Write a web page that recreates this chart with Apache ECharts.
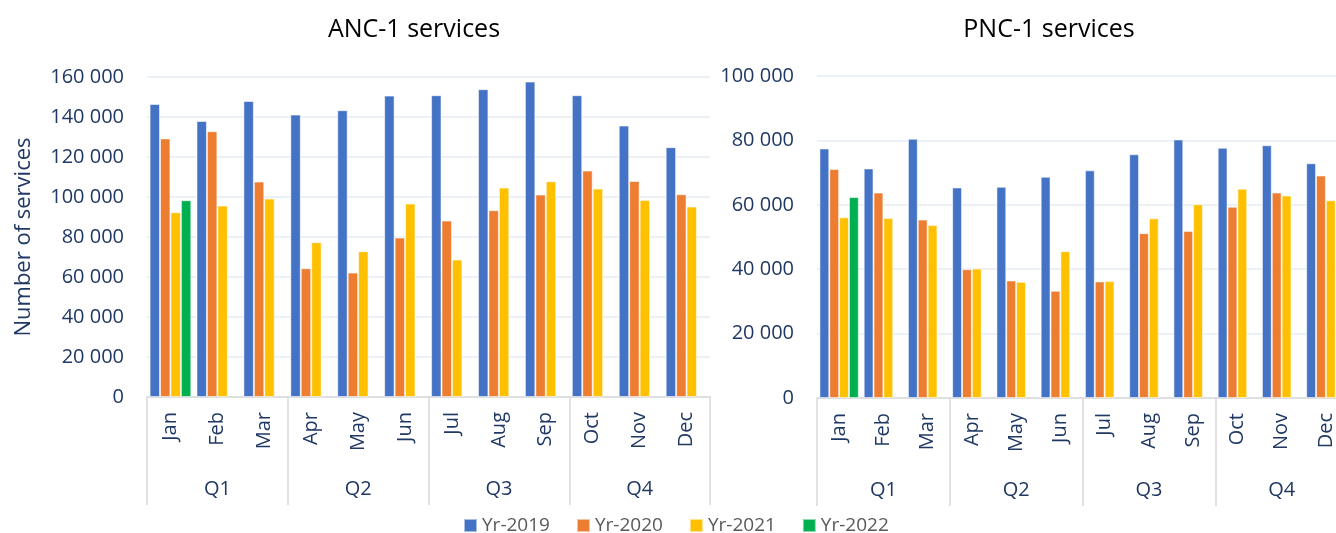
<!DOCTYPE html>
<html>
<head>
<meta charset="utf-8">
<script src="https://cdn.jsdelivr.net/npm/echarts@6/dist/echarts.min.js"></script>
<style>
html,body{margin:0;padding:0;background:#fff;overflow:hidden;}
#chart{width:1336px;height:533px;}
</style>
</head>
<body>
<div id="chart"></div>
<script>
const months = ['Jan','Feb','Mar','Apr','May','Jun','Jul','Aug','Sep','Oct','Nov','Dec'];
const quarters = ['Q1','Q2','Q3','Q4'];
const seriesNames = ['Yr-2019','Yr-2020','Yr-2021','Yr-2022'];

const ancY2019 = [146500, 138000, 148000, 141200, 143400, 150700, 150900, 153900, 157700, 150900, 135700, 124900];
const ancY2020 = [129300, 132900, 107700, 64400, 62200, 79700, 88200, 93400, 101200, 113200, 108000, 101400];
const ancY2021 = [92400, 95700, 99200, 77400, 72900, 96700, 68700, 104700, 107900, 104200, 98500, 95200];
const ancY2022 = [98400, null, null, null, null, null, null, null, null, null, null, null];

const pncY2019 = [77500, 71300, 80500, 65400, 65600, 68700, 70700, 75700, 80300, 77700, 78500, 72900];
const pncY2020 = [71100, 63800, 55400, 40000, 36500, 33300, 36200, 51200, 51900, 59400, 63800, 69100];
const pncY2021 = [56100, 55900, 53700, 40200, 36100, 45600, 36300, 55800, 60200, 65000, 62900, 61400];
const pncY2022 = [62400, null, null, null, null, null, null, null, null, null, null, null];

const colors = ['#4472C4', '#ED7D31', '#FFC000', '#00B050'];
const FONT = 'Open Sans';
const NAVY = '#203864';

function fmt(v) {
  return String(v).replace(/\B(?=(\d{3})+(?!\d))/g, ' ');
}

function xAxes(gridIndex) {
  return [
    {
      type: 'category', gridIndex: gridIndex, data: months, position: 'bottom',
      axisLine: { show: true, lineStyle: { color: '#d9d9d9', width: 1.5 } },
      axisTick: { show: false },
      axisLabel: { rotate: 90, margin: 15, color: NAVY, fontFamily: FONT, fontSize: 20 }
    },
    {
      type: 'category', gridIndex: gridIndex, data: quarters, position: 'bottom',
      axisLine: { show: false },
      axisTick: { show: true, length: 108, lineStyle: { color: '#d9d9d9', width: 1.5 } },
      axisLabel: { margin: 82, color: NAVY, fontFamily: FONT, fontSize: 20 },
      splitLine: { show: false }
    }
  ];
}

function yAxis(gridIndex, max, withName) {
  const a = {
    type: 'value', gridIndex: gridIndex, min: 0, max: max, interval: 20000,
    axisLine: { show: false }, axisTick: { show: false },
    axisLabel: { margin: 23, color: NAVY, fontFamily: FONT, fontSize: 20, formatter: fmt },
    splitLine: { lineStyle: { color: '#e6ecf5', width: 1.5 } }
  };
  if (withName) {
    a.name = 'Number of services';
    a.nameLocation = 'middle';
    a.nameRotate = 90;
    a.nameGap = 112;
    a.nameTextStyle = { color: NAVY, fontFamily: FONT, fontSize: 22 };
  }
  return a;
}

function bars(data, idx, gridIdx) {
  return {
    name: seriesNames[idx], type: 'bar', xAxisIndex: gridIdx * 2, yAxisIndex: gridIdx,
    data: data, barGap: '0%', barCategoryGap: '11%',
    itemStyle: { color: colors[idx], borderColor: 'rgba(255,255,255,0.55)', borderWidth: 1 },
    emphasis: { disabled: true }
  };
}

const chart = echarts.init(document.getElementById('chart'), null, { renderer: 'canvas' });
chart.setOption({
  animation: false,
  color: colors,
  title: [
    { text: 'ANC-1 services', left: 409, top: 12, textAlign: 'center',
      textStyle: { fontFamily: FONT, fontSize: 25, fontWeight: 'normal', color: '#000' } },
    { text: 'PNC-1 services', left: 1044, top: 12, textAlign: 'center',
      textStyle: { fontFamily: FONT, fontSize: 25, fontWeight: 'normal', color: '#000' } }
  ],
  legend: {
    data: seriesNames, left: 458, top: 511, itemWidth: 13, itemHeight: 13, itemGap: 26,
    icon: 'rect',
    textStyle: { fontFamily: FONT, fontSize: 19, color: '#595959' }
  },
  grid: [
    { left: 147, width: 563, top: 77, height: 320, outerBoundsMode: 'none', containLabel: false },
    { left: 817, width: 531, top: 76, height: 322, outerBoundsMode: 'none', containLabel: false }
  ],
  xAxis: xAxes(0).concat(xAxes(1)),
  yAxis: [yAxis(0, 160000, true), yAxis(1, 100000, false)],
  series: [
    bars(ancY2019, 0, 0), bars(ancY2020, 1, 0), bars(ancY2021, 2, 0), bars(ancY2022, 3, 0),
    bars(pncY2019, 0, 1), bars(pncY2020, 1, 1), bars(pncY2021, 2, 1), bars(pncY2022, 3, 1)
  ]
});
</script>
</body>
</html>
